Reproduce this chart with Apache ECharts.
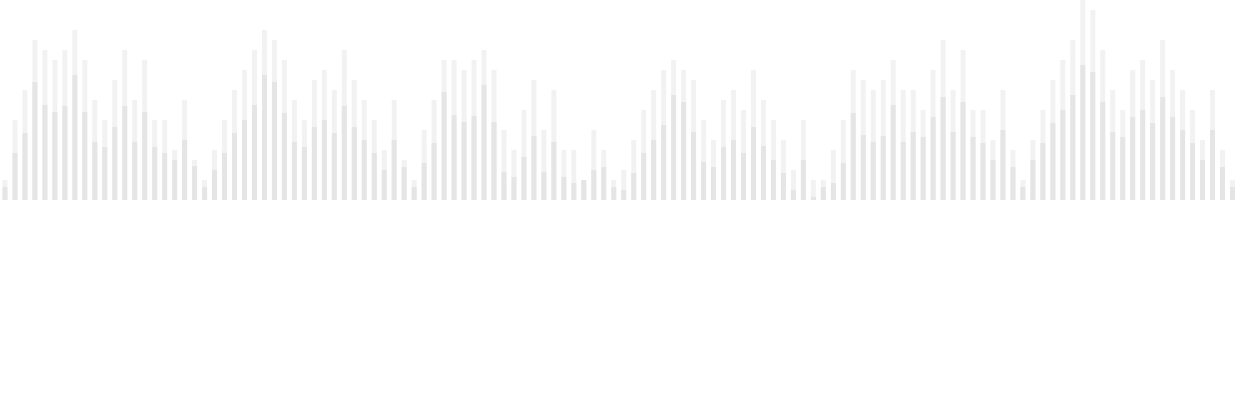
<!DOCTYPE html>
<html>
<head>
<meta charset="utf-8">
<script src="https://cdn.jsdelivr.net/npm/echarts@6/dist/echarts.min.js"></script>
<style>html,body{margin:0;padding:0;background:#fff}#chart{width:1240px;height:400px}</style>
</head>
<body>
<div id="chart"></div>
<script>
// 外层浅色柱 (总量)
var totalValues = [
    2,8,11,16,15,14,15,17,14,10,8,12,15,10,14,8,8,5,10,4,
    2,5,8,11,13,15,17,16,14,10,8,12,13,11,15,12,10,8,5,10,4,
    2,7,10,14,14,13,14,15,13,7,5,9,12,7,11,5,5,2,7,5,2,
    3,6,9,11,13,14,13,12,8,6,10,11,9,13,10,8,6,3,8,2,2,
    5,8,13,12,11,12,14,11,11,9,13,16,11,15,9,9,6,11,5,2,6,
    9,12,14,16,20,19,15,11,9,13,14,12,16,13,11,9,6,11,5,2
];
// 内层深色柱
var partValues = [
    1.3,4.7,6.7,11.8,9.5,8.8,9.4,12.5,8.8,5.8,5.3,7.3,9.4,5.8,8.8,5.3,4.7,4.0,6.0,3.4,
    1.3,3,4.7,6.7,8,9.5,12.5,11.8,8.7,5.8,5.3,7.3,8,6.7,9.4,7.3,6,4.7,3,6,3.3,
    1.3,3.7,5.7,10.8,8.5,7.8,8.4,11.5,7.8,2.8,2.3,4.3,6.4,2.8,5.8,2.3,1.7,2,3,3.3,1.3,
    1,2.7,4.7,6,7.5,10.5,9.8,6.8,3.8,3.3,5.3,6,4.7,7.3,5.4,4,2.7,1,4,0.3,1.3,
    1.7,3.7,8.7,6.5,5.8,6.4,9.5,5.8,6.8,6.3,8.3,10.3,6.8,9.8,6.3,5.7,4,7,3.3,1.3,4,
    5.7,7.7,9,10.5,13.5,12.8,9.8,6.8,6.3,8.3,9,7.7,10.3,8.3,7,5.7,4,7,3.3,1.3
];
var categories = totalValues.map(function (v, i) { return i + 1; });

var myChart = echarts.init(document.getElementById('chart'));
myChart.setOption({
    animation: false,
    grid: { left: -2.5, right: 2.5, top: 0, height: 200 },
    xAxis: { type: 'category', data: categories, show: false },
    yAxis: { type: 'value', min: 0, max: 20, show: false },
    series: [
        { type: 'bar', data: totalValues, barWidth: 5, barGap: '-100%', itemStyle: { color: '#f2f2f2' } },
        { type: 'bar', data: partValues, barWidth: 5, barGap: '-100%', itemStyle: { color: '#e5e5e5' } }
    ]
});
</script>
</body>
</html>
